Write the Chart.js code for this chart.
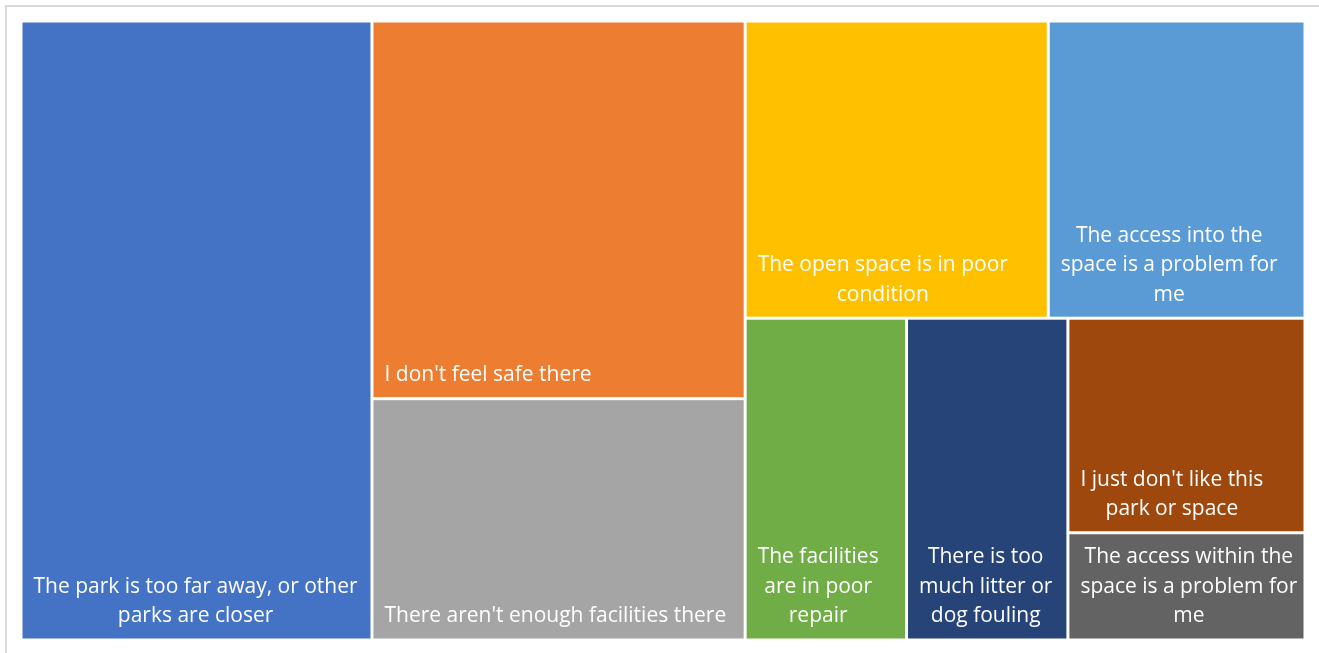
<!DOCTYPE html>
<html>
<head>
<meta charset="utf-8">
<script src="https://cdn.jsdelivr.net/npm/chart.js@4.4.0/dist/chart.umd.min.js"></script>
<style>
body { margin: 0; background: #fff; overflow: hidden; }
#frame { position: absolute; left: 5px; top: 5px; width: 1400px; height: 700px; border: 2px solid #d9d9d9; }
#wrap { position: absolute; left: 0; top: 0; width: 1319px; height: 653px; }
</style>
</head>
<body>
<div id="frame"></div>
<div id="wrap"><canvas id="myChart"></canvas></div>
<script>
const categories = [
    'The park is too far away, or other parks are closer',
    "I don't feel safe there",
    "There aren't enough facilities there",
    'The open space is in poor condition',
    'The access into the space is a problem for me',
    'The facilities are in poor repair',
    'There is too much litter or dog fouling',
    "I just don't like this park or space",
    'The access within the space is a problem for me'
];
const values = [205, 133, 85, 85, 72, 49, 49, 48, 24];
const colors = ['#4472C4', '#ED7D31', '#A5A5A5', '#FFC000', '#5B9BD5', '#70AD47', '#264478', '#9E480E', '#636363'];

function worst(row, side) {
    let s = row.reduce((a, b) => a + b, 0);
    let max = Math.max(...row), min = Math.min(...row);
    return Math.max(side * side * max / (s * s), (s * s) / (side * side * min));
}

// squarified layout, rect in scale-proportional units
function squarify(areas, rect) {
    let out = [];
    let i = 0;
    let x = rect.x, y = rect.y, w = rect.w, h = rect.h;
    while (i < areas.length) {
        let side = Math.min(w, h);
        let row = [areas[i]];
        let j = i + 1;
        while (j < areas.length) {
            let next = row.concat(areas[j]);
            if (worst(next, side) <= worst(row, side)) { row = next; j++; } else break;
        }
        let s = row.reduce((a, b) => a + b, 0);
        if (w >= h) {
            let cw = s / h, cy = y;
            row.forEach(a => { let ch = a / cw; out.push({ x: x, y: cy, w: cw, h: ch }); cy += ch; });
            x += cw; w -= cw;
        } else {
            let rh = s / w, cx = x;
            row.forEach(a => { let rw = a / rh; out.push({ x: cx, y: y, w: rw, h: rh }); cx += rw; });
            y += rh; h -= rh;
        }
        i = j;
    }
    return out;
}

function wrapText(ctx, text, maxW) {
    let words = text.split(' ');
    let lines = [];
    let cur = '';
    words.forEach(wd => {
        let test = cur ? cur + ' ' + wd : wd;
        if (cur && ctx.measureText(test).width > maxW) {
            lines.push(cur);
            cur = wd;
        } else {
            cur = test;
        }
    });
    if (cur) lines.push(cur);
    return lines;
}

const treemapPlugin = {
    id: 'treemap',
    afterDatasetsDraw(chart) {
        const { ctx, chartArea, scales } = chart;
        const aspect = chartArea.width / chartArea.height;
        const W = 100 * aspect, H = 100;
        const total = values.reduce((a, b) => a + b, 0);
        const areas = values.map(v => v / total * W * H);
        const cells = squarify(areas, { x: 0, y: 0, w: W, h: H });
        ctx.save();
        cells.forEach((c, i) => {
            let x0 = scales.x.getPixelForValue(c.x / aspect);
            let x1 = scales.x.getPixelForValue((c.x + c.w) / aspect);
            let y0 = scales.y.getPixelForValue(c.y);
            let y1 = scales.y.getPixelForValue(c.y + c.h);
            let left = x0 + 1.5, top = y0 + 1.5, width = x1 - x0 - 3, height = y1 - y0 - 3;
            ctx.fillStyle = colors[i];
            ctx.fillRect(left, top, width, height);

            ctx.font = '21px "Open Sans"';
            ctx.fillStyle = '#ffffff';
            ctx.textAlign = 'center';
            ctx.textBaseline = 'middle';
            let lines = wrapText(ctx, categories[i], width - 16);
            let blockW = Math.max(...lines.map(l => ctx.measureText(l).width));
            let cx = left + 11 + blockW / 2;
            let bottom = top + height - 22;
            lines.forEach((l, k) => {
                ctx.fillText(l, cx, bottom - (lines.length - 1 - k) * 29.5);
            });
        });
        ctx.restore();
    }
};

const ctx = document.getElementById('myChart').getContext('2d');
const myChart = new Chart(ctx, {
    type: 'scatter',
    data: { datasets: [{ data: [] }] },
    options: {
        responsive: true,
        maintainAspectRatio: false,
        animation: false,
        layout: { padding: { left: 21, top: 21, right: 14, bottom: 13 } },
        plugins: { legend: { display: false }, tooltip: { enabled: false } },
        scales: {
            x: { type: 'linear', min: 0, max: 100, display: false },
            y: { type: 'linear', min: 0, max: 100, reverse: true, display: false }
        }
    },
    plugins: [treemapPlugin]
});
</script>
</body>
</html>
